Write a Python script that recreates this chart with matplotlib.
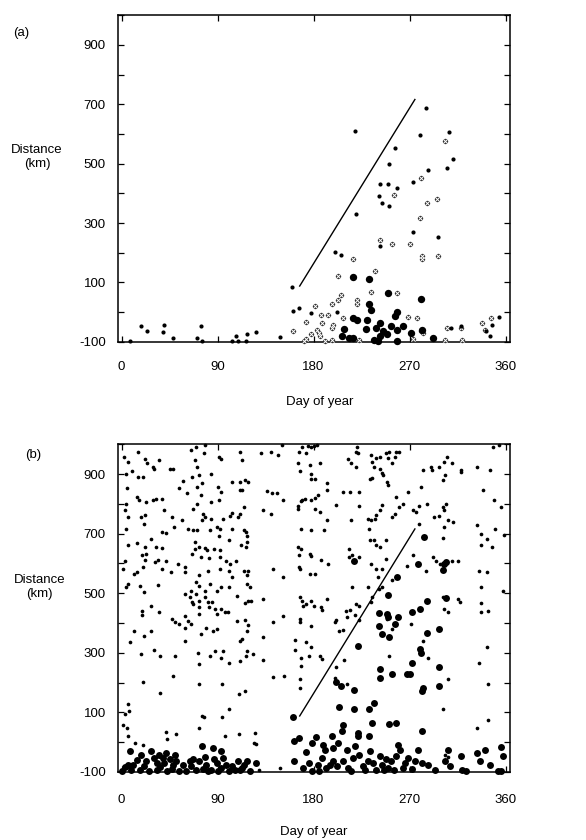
import numpy as np
import matplotlib
matplotlib.use("Agg")
import matplotlib.pyplot as plt

plt.rcParams["font.family"] = ["Liberation Sans", "DejaVu Sans"]
plt.rcParams["font.size"] = 9.5

# Seasonal front line (same in both panels)
front_day = [167, 275]
front_dist = [88, 716]

x_ticks = [0, 90, 180, 270, 360]
y_ticks = list(range(-100, 1001, 100))

# ---- panel (a): (day, distance km)
a_small = [
    (8, -97), (18, -47), (24, -64), (40, -43), (39, -68), (48, -87), (74, -47),
    (71, -88), (75, -97), (107, -81), (104, -97), (109, -97), (117, -97),
    (118, -73), (126, -66), (149, -84), (160, 85), (161, 4), (166, 13),
    (178, -3), (219, 609), (220, 330), (200, 202), (206, 192), (242, 433),
    (250, 432), (251, 498), (256, 554), (241, 392), (244, 367), (251, 358),
    (258, 418), (273, 437), (280, 597), (285, 689), (287, 477), (273, 270),
    (242, 222), (297, 252), (305, 486), (307, 605), (311, 517), (202, 2),
    (354, -17), (347, -44), (342, -62), (345, -79), (318, -46), (309, -52),
]
a_big = [
    (217, 117), (232, 112), (250, 65), (281, 43), (232, 27), (234, 6),
    (217, -19), (221, -25), (230, -28), (258, 0), (256, -14), (209, -56),
    (229, -56), (242, -38), (239, -53), (245, -65), (253, -47), (249, -75),
    (258, -59), (264, -47), (207, -79), (213, -87), (237, -92), (242, -81),
    (258, -97), (271, -70), (282, -59), (292, -87), (217, -88), (240, -97),
]
a_hatch = [
    (217, 179), (203, 121), (238, 137), (234, 67), (242, 242), (254, 231),
    (270, 231), (255, 395), (281, 453), (280, 317), (286, 369), (296, 382),
    (282, 190), (282, 179), (297, 190), (303, 576), (258, 65), (221, 42),
    (221, 28), (206, 59), (203, 42), (197, 29), (181, 22), (173, -34),
    (161, -62), (187, -8), (194, -8), (188, -36), (198, -42), (197, -53),
    (183, -59), (185, -70), (178, -75), (173, -90), (171, -98), (208, -19),
    (269, -16), (277, -19), (281, -62), (305, -53), (303, -92), (318, -53),
    (338, -36), (346, -19), (341, -59), (319, -94), (273, -90), (283, -70),
    (223, -92), (197, -92), (191, -98), (186, -81),
]

# ---- panel (b): (day, distance km)
b_small = [
    # days 0-60
    (2, 958), (6, 942), (15, 975), (4, 902), (10, 911), (22, 952), (24, 936),
    (29, 925), (30, 916), (35, 947), (45, 916), (48, 916), (5, 852), (15, 891),
    (20, 891), (14, 824), (16, 812), (23, 806), (29, 812), (32, 818), (38, 818),
    (4, 801), (6, 756), (3, 778), (18, 756), (22, 762), (40, 778), (21, 734),
    (47, 756), (49, 722), (57, 745), (38, 706), (42, 702), (4, 716), (6, 661),
    (14, 668), (22, 657), (28, 683), (19, 629), (23, 633), (32, 655), (38, 652),
    (3, 610), (1, 582), (12, 565), (14, 571), (20, 588), (22, 612), (31, 604),
    (34, 613), (38, 582), (42, 610), (46, 571), (53, 599), (59, 588), (4, 522),
    (6, 531), (17, 526), (21, 503), (34, 528), (19, 442), (19, 427), (28, 458),
    (35, 438), (12, 374), (21, 357), (28, 372), (8, 337), (18, 296), (30, 311),
    (36, 289), (20, 203), (36, 166), (48, 222), (50, 290), (47, 413), (50, 404),
    (54, 397), (59, 425), (59, 385), (65, 397), (62, 408), (66, 470), (73, 475),
    (59, 340), (73, 262), (72, 301), (78, 509), (81, 470), (73, 453), (73, 430),
    (82, 453), (88, 447), (89, 430), (97, 436), (93, 447), (74, 363), (79, 385),
    (86, 374), (89, 380), (100, 436), (83, 290), (93, 281), (88, 307), (95, 307),
    (101, 267), (73, 194), (94, 194), (111, 273), (117, 290), (118, 307),
    (113, 346), (118, 372), (119, 394), (108, 408), (116, 410), (111, 340),
    (123, 296), (110, 163), (116, 172), (73, 48), (75, 88), (77, 84), (94, 85),
    (101, 112), (97, 20), (110, 28), (125, 31), (124, -2), (126, -6), (42, 35),
    (51, 28), (43, 9), (6, 127), (7, 104), (3, 93), (1, 57), (5, 48), (6, 20),
    (13, -4), (20, -8),
    # days 60-125, upper
    (65, 981), (70, 992), (78, 998), (77, 970), (69, 947), (71, 925), (73, 897),
    (66, 891), (75, 869), (84, 902), (91, 958), (93, 952), (111, 975),
    (113, 947), (104, 874), (111, 874), (113, 846), (116, 880), (119, 874),
    (111, 846), (58, 877), (54, 852), (61, 835), (71, 857), (74, 829), (90, 857),
    (93, 840), (84, 807), (91, 812), (71, 801), (67, 784), (76, 767), (78, 756),
    (84, 751), (95, 749), (102, 758), (104, 769), (109, 756), (111, 767),
    (115, 790), (75, 745), (62, 717), (67, 711), (71, 711), (83, 711), (89, 722),
    (92, 717), (91, 693), (101, 678), (104, 717), (115, 711), (117, 706),
    (112, 661), (117, 655), (118, 672), (118, 693), (69, 672), (69, 650),
    (73, 655), (78, 652), (80, 644), (66, 633), (74, 621), (82, 619), (87, 650),
    (92, 644), (92, 621), (98, 610), (102, 599), (115, 576), (119, 576),
    (118, 560), (118, 531), (120, 520), (119, 475), (116, 468), (121, 475),
    (107, 610), (59, 571), (73, 560), (81, 576), (92, 582), (101, 576),
    (104, 554), (93, 520), (101, 520), (65, 509), (59, 498), (64, 487),
    (78, 487), (70, 537), (73, 526), (83, 531), (89, 509), (85, 470), (108, 492),
    (67, 464), (70, 498),
    # days 125-165
    (133, 779), (136, 843), (141, 835), (146, 835), (151, 812), (140, 765),
    (142, 582), (151, 554), (151, 425), (142, 402), (133, 481), (133, 352),
    (133, 275), (142, 220), (152, 222), (131, 970), (140, 975), (147, 964),
    (150, 998), (129, -95), (149, -87),
    # days 165-225
    (166, 975), (169, 990), (173, 970), (175, 995), (178, 990), (180, 995),
    (183, 998), (165, 938), (167, 911), (177, 931), (178, 885), (181, 885),
    (186, 936), (178, 902), (193, 871), (193, 846), (184, 829), (178, 812),
    (181, 821), (172, 818), (168, 810), (165, 792), (165, 782), (169, 812),
    (181, 784), (186, 773), (193, 745), (190, 711), (178, 711), (168, 717),
    (165, 655), (168, 650), (177, 633), (178, 624), (166, 630), (187, 613),
    (194, 597), (166, 588), (167, 582), (177, 565), (181, 565), (170, 458),
    (167, 487), (169, 475), (173, 464), (178, 475), (180, 458), (187, 453),
    (188, 444), (193, 481), (167, 413), (167, 402), (178, 391), (163, 343),
    (173, 335), (178, 318), (163, 309), (168, 282), (176, 290), (186, 290),
    (188, 279), (168, 256), (167, 211), (167, 183), (200, 402), (201, 410),
    (204, 374), (208, 376), (211, 421), (214, 444), (209, 275), (201, 251),
    (211, 194), (200, 217), (212, 950), (215, 936), (220, 975), (222, 970),
    (220, 925), (221, 992), (214, 840), (223, 840), (223, 792), (215, 745),
    (213, 650), (216, 627), (213, 621), (223, 621), (216, 522), (220, 464),
    (223, 458), (219, 428), (223, 410), (210, 442), (201, 796), (208, 840),
    # days 230-290
    (234, 964), (235, 942), (239, 953), (242, 956), (242, 916), (244, 904),
    (248, 970), (250, 953), (251, 975), (254, 936), (256, 958), (257, 975),
    (260, 975), (237, 925), (233, 885), (235, 888), (245, 896), (249, 874),
    (250, 863), (242, 779), (244, 796), (239, 762), (234, 745), (231, 751),
    (238, 749), (257, 824), (260, 790), (254, 756), (256, 767), (264, 801),
    (269, 840), (281, 857), (279, 792), (286, 801), (273, 779), (276, 773),
    (232, 717), (233, 678), (237, 678), (239, 661), (242, 655), (248, 678),
    (234, 599), (239, 582), (244, 582), (248, 616), (268, 593), (240, 554),
    (244, 520), (241, 514), (254, 545), (235, 487), (234, 470), (231, 520),
    (249, 413), (254, 380), (251, 290), (279, 734), (290, 925), (291, 914),
    (283, 914), (273, 627), (285, 576), (271, 397), (287, 284), (283, 340),
    # days 290-325
    (298, 925), (301, 880), (303, 897), (302, 942), (305, 958), (310, 938),
    (318, 908), (318, 914), (301, 790), (302, 779), (304, 801), (306, 745),
    (302, 722), (301, 687), (298, 758), (299, 599), (301, 579), (310, 610),
    (302, 447), (306, 436), (301, 487), (315, 481), (317, 470), (306, 211),
    (301, 110), (315, 610), (311, 739), (293, 756), (292, 621), (295, 610),
    (303, -42), (306, -50),
    # days 330-360
    (333, 925), (345, 914), (348, 990), (354, 998), (339, 846), (349, 812),
    (356, 790), (333, 728), (337, 700), (337, 661), (343, 683), (347, 655),
    (350, 717), (359, 695), (335, 576), (343, 571), (337, 520), (358, 509),
    (337, 466), (337, 436), (344, 442), (343, 318), (335, 267), (344, 197),
    (344, 73), (333, 46),
]
b_big = [
    # ramp
    (161, 84), (201, 203), (206, 189), (218, 174), (204, 118), (218, 113),
    (232, 110), (237, 133), (222, 324), (218, 610), (235, 65), (251, 62),
    (257, 65), (242, 245), (242, 217), (254, 230), (270, 228), (268, 228),
    (272, 267), (280, 312), (281, 301), (283, 183), (282, 172), (282, 37),
    (298, 251), (298, 189), (241, 391), (244, 363), (251, 354), (241, 433),
    (249, 430), (250, 419), (259, 419), (256, 397), (272, 436), (280, 447),
    (286, 473), (286, 366), (298, 380), (304, 484), (304, 605), (278, 597),
    (258, 556), (250, 495), (284, 690), (301, 579), (302, 598),
    # bottom band, days 0-130
    (0, -96), (8, -28), (6, -75), (9, -92), (11, -75), (17, -92), (18, -42),
    (23, -64), (28, -30), (30, -53), (33, -70), (35, -42), (39, -53), (40, -70),
    (42, -36), (45, -58), (48, -75), (50, -42), (51, -62), (26, -96), (33, -92),
    (43, -96), (54, -96), (64, -64), (65, -81), (70, -92), (73, -64), (75, -13),
    (78, -50), (79, -75), (84, -92), (86, -19), (87, -58), (89, -70), (93, -87),
    (95, -53), (98, -75), (104, -81), (109, -64), (111, -92), (115, -75),
    (118, -64), (120, -96), (126, -70), (60, -96), (81, -96), (101, -96),
    (14, -60), (36, -85), (58, -78), (93, -30), (106, -92), (3, -85),
    (21, -80), (47, -90), (67, -55), (76, -90), (90, -96), (113, -86),
    # bottom band, days 160-360
    (162, 3), (166, 15), (162, -64), (173, -34), (179, -2), (182, 17),
    (189, -8), (191, -25), (197, 20), (198, -19), (203, -2), (207, 37),
    (208, 57), (170, -87), (176, -70), (179, -96), (184, -75), (188, -53),
    (192, -87), (198, -64), (202, -81), (208, -64), (212, -87), (211, -25),
    (217, -53), (219, -13), (222, 31), (222, 20), (223, -42), (226, -81),
    (231, -64), (232, 22), (233, -30), (239, -92), (242, -47), (244, -75),
    (248, -58), (250, -87), (253, -64), (257, -47), (259, -8), (261, -25),
    (264, -87), (269, -53), (275, -64), (278, -25), (282, -70), (294, -92),
    (303, -64), (306, -25), (308, -81), (318, -47), (319, -92), (323, -96),
    (333, -36), (336, -64), (341, -25), (345, -75), (356, -17), (358, -47),
    (353, -98), (356, -96), (185, -96), (215, -96), (236, -70), (255, -92),
    (195, -75), (228, -92), (246, -94), (266, -70), (272, -90), (287, -78),
]


def setup_axes(ax, xpad):
    ax.set_xlim(-3, 364)
    ax.set_ylim(-100, 1000)
    ax.set_xticks(x_ticks)
    ax.set_yticks(y_ticks)
    ax.set_yticklabels([str(v) if v % 200 != 0 else "" for v in y_ticks])
    ax.tick_params(direction="in", length=4.5, width=0.9, top=True, right=True)
    ax.tick_params(axis="x", pad=xpad)
    ax.tick_params(axis="y", pad=9)
    for s in ax.spines.values():
        s.set_linewidth(1.1)
    ax.plot(front_day, front_dist, color="black", lw=1.0)


fig = plt.figure(figsize=(5.86, 8.4), dpi=100)
ax_a = fig.add_axes([0.202, 0.593, 0.668, 0.389])
ax_b = fig.add_axes([0.202, 0.081, 0.668, 0.390])

setup_axes(ax_a, 14)
a_s = np.array(a_small)
a_b = np.array(a_big)
a_h = np.array(a_hatch)
# speckled markers: dark blotch with a light cross
ax_a.scatter(a_h[:, 0], a_h[:, 1], s=15, marker="o", color="0.2",
             linewidth=0, clip_on=False, zorder=3)
ax_a.scatter(a_h[:, 0], a_h[:, 1], s=9, marker="x", color="white",
             linewidth=0.7, clip_on=False, zorder=3.5)
ax_a.scatter(a_s[:, 0], a_s[:, 1], s=9, color="black", linewidth=0, clip_on=False, zorder=4)
ax_a.scatter(a_b[:, 0], a_b[:, 1], s=28, color="black", linewidth=0, clip_on=False, zorder=4)

setup_axes(ax_b, 16)
b_s = np.array(b_small)
b_b = np.array(b_big)
ax_b.scatter(b_s[:, 0], b_s[:, 1], s=7, color="black", linewidth=0, clip_on=False, zorder=4)
ax_b.scatter(b_b[:, 0], b_b[:, 1], s=25, color="black", linewidth=0, clip_on=False, zorder=4)

fig.text(0.036, 0.961, "(a)", ha="center", va="center")
fig.text(0.056, 0.458, "(b)", ha="center", va="center")
fig.text(0.063, 0.813, "Distance\n(km)", ha="center", va="center", linespacing=1.25)
fig.text(0.067, 0.301, "Distance\n(km)", ha="center", va="center", linespacing=1.25)
fig.text(0.546, 0.521, "Day of year", ha="center", va="center")
fig.text(0.536, 0.009, "Day of year", ha="center", va="center")

fig.savefig("out.png", dpi=100)
